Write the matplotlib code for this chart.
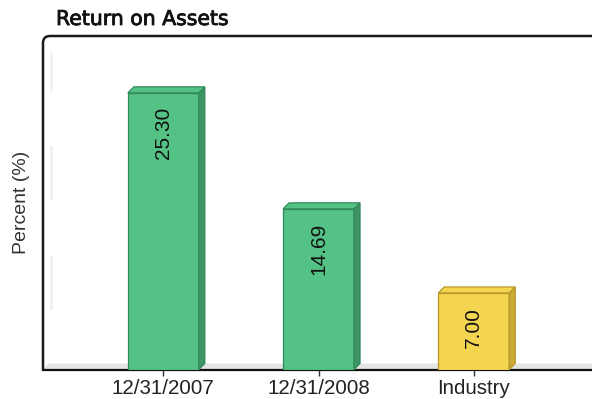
import matplotlib
matplotlib.use("Agg")
import matplotlib.pyplot as plt
import matplotlib.patheffects as pe
from matplotlib.patches import Polygon, PathPatch
from matplotlib.path import Path

# data
categories = ["12/31/2007", "12/31/2008", "Industry"]
values = [25.30, 14.69, 7.00]
value_labels = ["25.30", "14.69", "7.00"]

green = ("#54c285", "#3f9466", "#2f8a58")   # front, side, edge
yellow = ("#f3d54f", "#c9aa35", "#b8962a")
bar_colors = [green, green, yellow]


def draw_box(ax, x, v, w, dx, dy, cols):
    front, side, edge = cols
    l, r = x - w / 2, x + w / 2
    ax.add_patch(Polygon([(l, 0), (r, 0), (r, v), (l, v)], closed=True,
                         facecolor=front, edgecolor=edge, lw=0.9, zorder=3))
    ax.add_patch(Polygon([(r, 0), (r + dx, dy), (r + dx, v + dy), (r, v)], closed=True,
                         facecolor=side, edgecolor=edge, lw=0.9, zorder=3))
    ax.add_patch(Polygon([(l, v), (l + dx, v + dy), (r + dx, v + dy), (r, v)], closed=True,
                         facecolor=front, edgecolor=edge, lw=0.9, zorder=3))


def plot_chart():
    fig = plt.figure(figsize=(5.92, 3.99), dpi=100)
    ax = fig.add_axes([43 / 592, 29.5 / 399, 551 / 592, 333.5 / 399])
    ax.set_xlim(-0.775, 2.775)
    ax.set_ylim(0, 30.5)

    for s in ["top", "right", "left"]:
        ax.spines[s].set_visible(False)
    ax.spines["bottom"].set_color("#111111")
    ax.spines["bottom"].set_linewidth(1.6)

    # floor of the 3d box
    ax.add_patch(Polygon([(-0.775, 0), (-0.74, 0.55), (2.8, 0.55), (2.8, 0)], closed=True,
                         facecolor="#e4e4e4", edgecolor="none", zorder=1))

    # faint bands on the back wall
    for y0, y1 in [(25.5, 29.0), (15.5, 20.5), (5.5, 10.5)]:
        ax.plot([-0.725, -0.725], [y0, y1], color="#f0f0f0", lw=2, zorder=1,
                solid_capstyle="butt")

    # frame with rounded top-left corner, open to the right
    rx, ry = 7 / 551, 7 / 333.5
    verts = [(0, 0), (0, 1 - ry), (0, 1), (rx, 1), (1.3, 1)]
    codes = [Path.MOVETO, Path.LINETO, Path.CURVE3, Path.CURVE3, Path.LINETO]
    ax.add_patch(PathPatch(Path(verts, codes), transform=ax.transAxes, fill=False,
                           edgecolor="#1a1a1a", lw=1.8, clip_on=False, zorder=5))

    w, dx, dy = 0.457, 0.039, 0.55
    for i, v in enumerate(values):
        draw_box(ax, i, v, w, dx, dy, bar_colors[i])
        ax.annotate(value_labels[i], xy=(i, v), xytext=(0, -10), textcoords="offset points",
                    rotation=90, ha="center", va="top", fontsize=15,
                    family="Liberation Sans", color="#111111", zorder=4)

    ax.set_xticks(range(len(categories)))
    ax.set_xticklabels(categories, fontsize=14.8, family="Liberation Sans", color="#222222")
    ax.tick_params(axis="x", length=4, width=1, color="#333333", pad=3)
    ax.set_yticks([])

    ax.set_ylabel("Percent (%)", fontsize=14, family="Liberation Sans", color="#333333",
                  labelpad=9)

    fig.text(56 / 592, 1 - 25 / 399, "Return on Assets", fontsize=14.7,
             family="DejaVu Sans", color="#111111", va="baseline",
             path_effects=[pe.withStroke(linewidth=0.6, foreground="#111111")])

    fig.savefig("out.png", dpi=100)
    plt.close(fig)


if __name__ == "__main__":
    plot_chart()
